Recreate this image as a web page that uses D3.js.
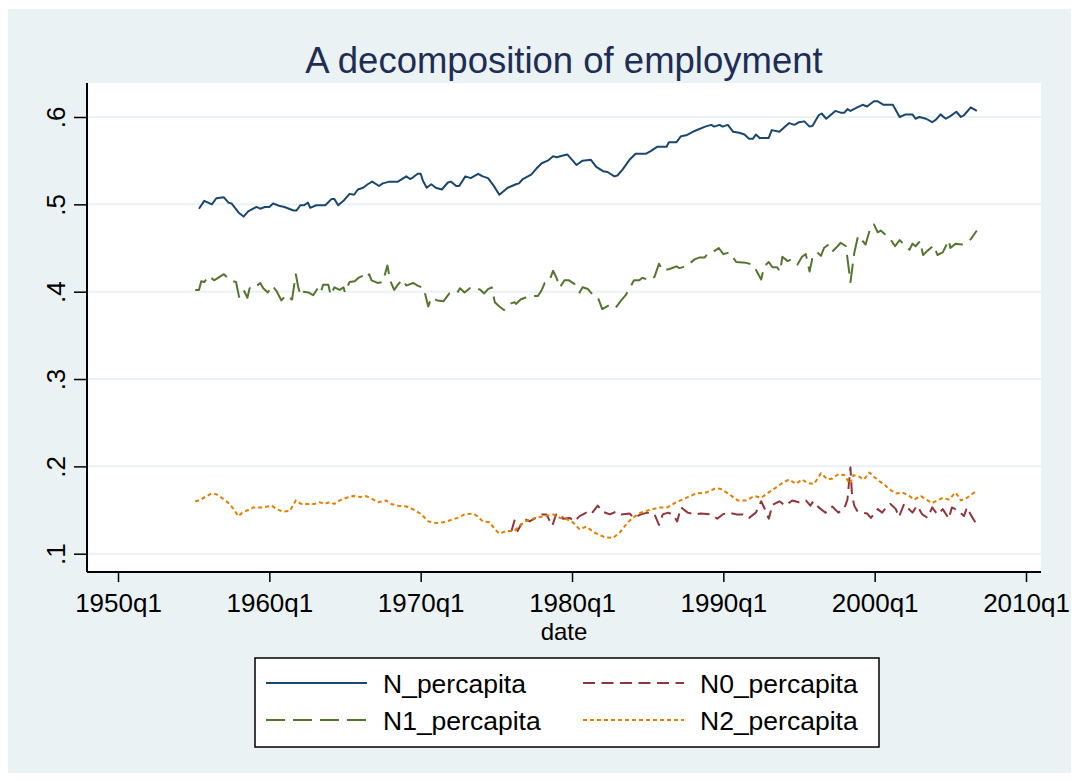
<!DOCTYPE html>
<html>
<head>
<meta charset="utf-8">
<script src="https://cdn.jsdelivr.net/npm/d3@7"></script>
<style>
  body { margin: 0; background: #fff; }
  text { font-family: "Liberation Sans", Arial, Helvetica, sans-serif; }
</style>
</head>
<body>
<div class="canvas"></div>
<script>
// [year, value]
const nPercapita = [[1955.35,.495],[1955.7,.504],[1956.2,.500],[1956.5,.507],[1957.0,.508],[1957.3,.502],[1957.5,.501],[1958.0,.490],[1958.3,.486],[1958.6,.492],[1959.15,.497],[1959.4,.495],[1959.7,.497],[1960.0,.497],[1960.25,.501],[1960.7,.498],[1961.0,.497],[1961.6,.493],[1961.8,.493],[1962.05,.499],[1962.3,.499],[1962.55,.502],[1962.7,.496],[1963.1,.499],[1963.7,.499],[1964.1,.506],[1964.3,.506],[1964.55,.499],[1964.9,.504],[1965.3,.512],[1965.6,.511],[1965.85,.517],[1966.2,.519],[1966.5,.523],[1966.8,.526],[1967.25,.521],[1967.5,.524],[1967.95,.526],[1968.5,.526],[1969.05,.532],[1969.3,.529],[1969.5,.531],[1969.8,.535],[1970.0,.535],[1970.15,.527],[1970.4,.519],[1970.7,.523],[1971.0,.519],[1971.4,.517],[1971.8,.525],[1972.0,.526],[1972.35,.521],[1972.55,.521],[1972.95,.532],[1973.3,.530],[1973.8,.535],[1974.1,.532],[1974.45,.530],[1974.8,.522],[1975.2,.511],[1975.75,.519],[1976.3,.523],[1976.5,.524],[1976.75,.529],[1977.3,.534],[1977.65,.541],[1978.0,.547],[1978.4,.550],[1978.75,.555],[1979.0,.554],[1979.4,.556],[1979.7,.557],[1980.05,.550],[1980.3,.545],[1980.7,.550],[1981.25,.551],[1981.6,.543],[1982.05,.538],[1982.35,.537],[1982.8,.532],[1983.0,.533],[1983.35,.540],[1983.8,.551],[1984.2,.558],[1984.9,.558],[1985.2,.561],[1985.65,.566],[1986.25,.566],[1986.4,.571],[1986.9,.571],[1987.2,.578],[1987.55,.579],[1988.1,.584],[1988.8,.589],[1989.2,.591],[1989.4,.589],[1989.75,.591],[1989.95,.589],[1990.3,.591],[1990.65,.583],[1991.05,.582],[1991.4,.580],[1991.7,.575],[1991.95,.575],[1992.15,.580],[1992.4,.576],[1993.0,.576],[1993.2,.585],[1993.7,.583],[1994.35,.593],[1994.7,.591],[1995.0,.594],[1995.35,.595],[1995.7,.589],[1995.9,.590],[1996.3,.602],[1996.5,.604],[1996.8,.598],[1997.4,.607],[1997.75,.605],[1998.0,.605],[1998.2,.609],[1998.4,.607],[1998.85,.611],[1999.2,.614],[1999.5,.612],[1999.95,.618],[2000.2,.618],[2000.6,.614],[2001.2,.614],[2001.65,.600],[2002.05,.603],[2002.5,.603],[2002.7,.598],[2002.95,.600],[2003.4,.598],[2003.8,.594],[2004.05,.597],[2004.35,.603],[2004.7,.598],[2005.0,.601],[2005.4,.606],[2005.7,.600],[2005.9,.602],[2006.35,.611],[2006.75,.607]];

const n0Percapita = [[1976.0,.126],[1976.2,.138],[1976.4,.126],[1976.85,.140],[1977.2,.137],[1977.6,.141],[1978.0,.145],[1978.3,.145],[1978.7,.132],[1978.95,.145],[1979.3,.145],[1979.4,.140],[1979.85,.141],[1980.15,.137],[1980.5,.143],[1980.95,.147],[1981.25,.145],[1981.7,.155],[1982.05,.148],[1982.5,.145],[1982.9,.148],[1983.25,.145],[1983.8,.146],[1984.1,.141],[1984.55,.145],[1985.0,.147],[1985.45,.145],[1985.75,.133],[1986.0,.145],[1986.35,.147],[1986.65,.145],[1986.95,.137],[1987.2,.153],[1987.65,.147],[1988.1,.145],[1988.5,.146],[1989.2,.145],[1989.6,.140],[1989.95,.145],[1990.4,.147],[1990.85,.145],[1991.3,.145],[1991.7,.141],[1992.15,.147],[1992.5,.160],[1992.8,.149],[1993.0,.140],[1993.25,.156],[1993.7,.160],[1994.1,.155],[1994.55,.161],[1995.0,.159],[1995.45,.161],[1995.75,.155],[1995.95,.160],[1996.3,.153],[1996.75,.147],[1997.2,.154],[1997.6,.147],[1998.0,.152],[1998.2,.162],[1998.4,.199],[1998.5,.168],[1998.65,.155],[1998.85,.149],[1999.2,.147],[1999.5,.146],[1999.75,.141],[2000.2,.151],[2000.5,.147],[2000.85,.155],[2001.05,.157],[2001.4,.151],[2001.6,.142],[2001.95,.157],[2002.15,.153],[2002.5,.147],[2002.8,.155],[2003.15,.145],[2003.5,.141],[2003.8,.153],[2004.15,.145],[2004.5,.151],[2004.9,.140],[2005.1,.153],[2005.55,.149],[2005.9,.143],[2006.1,.153],[2006.4,.143],[2006.65,.136]];

const n1Percapita = [[1955.1,.402],[1955.35,.402],[1955.5,.412],[1955.7,.411],[1956.0,.418],[1956.35,.413],[1957.0,.420],[1957.4,.413],[1957.8,.411],[1958.0,.394],[1958.3,.402],[1958.55,.393],[1958.7,.404],[1958.9,.403],[1959.4,.410],[1959.6,.404],[1959.9,.399],[1960.2,.407],[1960.5,.400],[1960.8,.390],[1961.1,.396],[1961.5,.391],[1961.75,.420],[1961.9,.406],[1962.05,.396],[1962.2,.400],[1962.6,.399],[1962.9,.396],[1963.2,.404],[1963.4,.399],[1963.55,.408],[1963.9,.408],[1964.05,.396],[1964.3,.405],[1964.65,.402],[1964.9,.405],[1965.0,.399],[1965.3,.411],[1965.65,.412],[1965.9,.416],[1966.3,.419],[1966.4,.416],[1966.6,.420],[1966.75,.413],[1967.15,.410],[1967.5,.411],[1967.8,.430],[1967.9,.421],[1968.0,.412],[1968.25,.402],[1968.5,.408],[1968.8,.414],[1969.05,.407],[1969.5,.410],[1969.8,.407],[1970.2,.404],[1970.5,.383],[1970.7,.393],[1971.1,.390],[1971.5,.389],[1971.9,.398],[1972.4,.398],[1972.6,.404],[1972.9,.399],[1973.25,.404],[1973.6,.405],[1973.95,.402],[1974.2,.398],[1974.45,.403],[1974.7,.405],[1974.9,.388],[1975.2,.383],[1975.5,.379],[1975.9,.386],[1976.2,.388],[1976.3,.386],[1976.6,.391],[1976.9,.393],[1977.3,.395],[1977.75,.395],[1978.0,.402],[1978.2,.410],[1978.5,.412],[1978.75,.424],[1978.95,.417],[1979.2,.405],[1979.5,.413],[1979.8,.413],[1980.15,.409],[1980.5,.399],[1980.7,.405],[1981.05,.403],[1981.35,.397],[1981.7,.394],[1982.0,.380],[1982.5,.385],[1982.9,.382],[1983.25,.390],[1983.55,.396],[1983.8,.404],[1984.1,.413],[1984.45,.413],[1984.65,.416],[1985.1,.413],[1985.45,.417],[1985.75,.432],[1986.0,.424],[1986.45,.426],[1986.9,.429],[1987.1,.427],[1987.55,.429],[1988.1,.437],[1988.4,.439],[1988.75,.439],[1988.95,.443],[1989.2,.444],[1989.7,.450],[1990.0,.443],[1990.4,.445],[1990.85,.434],[1991.5,.433],[1991.95,.431],[1992.15,.425],[1992.5,.414],[1992.7,.429],[1993.0,.434],[1993.25,.428],[1993.55,.428],[1993.75,.423],[1993.9,.440],[1994.25,.435],[1994.5,.437],[1994.9,.431],[1995.2,.440],[1995.45,.443],[1995.7,.423],[1995.9,.440],[1996.2,.445],[1996.45,.441],[1996.65,.450],[1996.95,.454],[1997.2,.446],[1997.55,.452],[1997.75,.456],[1998.1,.452],[1998.4,.411],[1998.65,.444],[1998.9,.464],[1999.4,.454],[1999.75,.475],[1999.95,.477],[2000.2,.468],[2000.4,.470],[2000.6,.467],[2001.05,.460],[2001.35,.452],[2001.65,.459],[2001.95,.454],[2002.3,.448],[2002.5,.455],[2002.7,.452],[2003.0,.458],[2003.2,.442],[2003.5,.447],[2003.9,.453],[2004.15,.442],[2004.5,.445],[2004.9,.459],[2005.0,.450],[2005.35,.455],[2005.75,.454],[2006.0,.456],[2006.35,.460],[2006.75,.470]];

const n2Percapita = [[1955.1,.160],[1955.4,.161],[1955.75,.165],[1956.2,.169],[1956.5,.168],[1956.85,.164],[1957.3,.158],[1957.6,.152],[1957.95,.143],[1958.2,.147],[1958.6,.150],[1958.95,.153],[1959.6,.153],[1960.15,.155],[1960.5,.151],[1960.9,.148],[1961.35,.149],[1961.75,.161],[1962.1,.157],[1962.45,.157],[1963.0,.157],[1963.3,.159],[1963.65,.157],[1964.0,.159],[1964.3,.157],[1964.65,.161],[1965.1,.164],[1965.55,.166],[1966.0,.165],[1966.4,.166],[1966.75,.163],[1967.2,.159],[1967.7,.161],[1968.05,.157],[1968.5,.155],[1969.05,.154],[1969.6,.150],[1970.05,.145],[1970.5,.137],[1971.05,.135],[1971.5,.136],[1971.9,.138],[1972.45,.141],[1972.9,.145],[1973.45,.146],[1973.75,.143],[1974.1,.137],[1974.55,.136],[1974.9,.128],[1975.2,.123],[1975.65,.126],[1976.2,.126],[1976.6,.133],[1977.05,.138],[1977.6,.141],[1978.2,.143],[1978.75,.145],[1979.2,.141],[1979.6,.140],[1980.05,.136],[1980.5,.128],[1980.95,.131],[1981.5,.124],[1982.15,.119],[1982.7,.118],[1983.15,.124],[1983.6,.134],[1984.0,.141],[1984.55,.147],[1985.1,.150],[1985.8,.153],[1986.3,.153],[1986.9,.159],[1987.55,.164],[1988.2,.169],[1988.85,.170],[1989.5,.175],[1989.85,.174],[1990.4,.168],[1990.95,.161],[1991.5,.161],[1992.05,.166],[1992.5,.164],[1992.9,.169],[1993.5,.176],[1993.9,.181],[1994.35,.185],[1994.8,.180],[1995.2,.185],[1995.55,.181],[1996.0,.180],[1996.45,.192],[1996.9,.185],[1997.2,.186],[1997.6,.191],[1998.0,.190],[1998.35,.180],[1998.6,.190],[1999.0,.188],[1999.3,.185],[1999.65,.193],[1999.95,.188],[2000.3,.183],[2000.6,.180],[2000.95,.174],[2001.4,.169],[2001.85,.170],[2002.3,.166],[2002.6,.162],[2003.05,.166],[2003.5,.161],[2003.8,.158],[2004.15,.161],[2004.5,.164],[2004.9,.162],[2005.35,.170],[2005.7,.161],[2006.1,.164],[2006.65,.171]];

const xTicks = [1950, 1960, 1970, 1980, 1990, 2000, 2010];
const yTicks = [0.1, 0.2, 0.3, 0.4, 0.5, 0.6];
const seriesNames = ["N_percapita", "N0_percapita", "N1_percapita", "N2_percapita"];

const dims = {width: 1077, height: 780};
const plot = {left: 87, right: 1041, top: 83, bottom: 572};

const svg = d3.select(".canvas")
    .append("svg")
    .attr("width", dims.width)
    .attr("height", dims.height);

// outer Stata background
svg.append("rect")
    .attr("x", 8).attr("y", 9)
    .attr("width", 1063).attr("height", 764)
    .attr("fill", "#eaf2f3");

svg.append("rect")
    .attr("x", plot.left).attr("y", plot.top)
    .attr("width", plot.right - plot.left).attr("height", plot.bottom - plot.top)
    .attr("fill", "#fff");

const x = d3.scaleLinear().domain([1950, 2010]).range([118, 1026]);
const y = d3.scaleLinear().domain([0.1, 0.6]).range([553.7, 117]);

// gridlines
svg.append("g")
    .selectAll("line")
    .data(yTicks)
    .enter().append("line")
    .attr("x1", plot.left).attr("x2", plot.right)
    .attr("y1", d => y(d)).attr("y2", d => y(d))
    .attr("stroke", "#eaf2f3")
    .attr("stroke-width", 2);

const series = [
    {name: seriesNames[0], data: nPercapita, color: "#1a476f", dash: null},
    {name: seriesNames[1], data: n0Percapita, color: "#90353b", dash: "12,6.5"},
    {name: seriesNames[2], data: n1Percapita, color: "#55752f", dash: "19,8"},
    {name: seriesNames[3], data: n2Percapita, color: "#e37e00", dash: "4,3"}
];

const line = d3.line()
    .x(d => x(d[0]))
    .y(d => y(d[1]));

svg.append("g")
    .selectAll("path")
    .data(series)
    .enter().append("path")
    .attr("d", d => line(d.data))
    .attr("fill", "none")
    .attr("stroke", d => d.color)
    .attr("stroke-width", 2)
    .attr("stroke-dasharray", d => d.dash)
    .attr("stroke-linejoin", "round");

// axes
const xAxis = d3.axisBottom(x)
    .tickValues(xTicks)
    .tickSize(10)
    .tickSizeOuter(0)
    .tickFormat(d => d + "q1");
const xg = svg.append("g")
    .attr("transform", `translate(0, ${plot.bottom})`)
    .call(xAxis);
xg.select(".domain").attr("d", `M${plot.left},0H${plot.right}`).attr("stroke-width", 2);
xg.selectAll("line").attr("stroke-width", 1.5);
xg.selectAll("text")
    .attr("font-size", 26)
    .attr("font-family", "Liberation Sans, Arial, sans-serif")
    .attr("fill", "#000")
    .attr("y", 40)
    .attr("dy", 0);

const yAxis = d3.axisLeft(y)
    .tickValues(yTicks)
    .tickSize(13)
    .tickSizeOuter(0)
    .tickFormat(d => d3.format(".1f")(d).replace(/^0/, ""));
const yg = svg.append("g")
    .attr("transform", `translate(${plot.left}, 0)`)
    .call(yAxis);
yg.select(".domain").attr("d", `M0,${plot.top}V${plot.bottom}`).attr("stroke-width", 2);
yg.selectAll("line").attr("stroke-width", 1.5);
yg.selectAll("text")
    .attr("font-size", 26)
    .attr("font-family", "Liberation Sans, Arial, sans-serif")
    .attr("fill", "#000")
    .attr("x", 0).attr("dy", 0)
    .attr("text-anchor", "middle")
    .attr("transform", "translate(-22,0) rotate(-90)");

// titles
svg.append("text")
    .attr("x", (plot.left + plot.right) / 2)
    .attr("y", 73)
    .attr("text-anchor", "middle")
    .attr("font-size", 36.5)
    .attr("fill", "#1e2d55")
    .text("A decomposition of employment");

svg.append("text")
    .attr("x", (plot.left + plot.right) / 2)
    .attr("y", 640)
    .attr("text-anchor", "middle")
    .attr("font-size", 24)
    .attr("fill", "#000")
    .text("date");

// legend
const legend = svg.append("g");
legend.append("rect")
    .attr("x", 255).attr("y", 658)
    .attr("width", 624).attr("height", 89)
    .attr("fill", "#fff")
    .attr("stroke", "#000")
    .attr("stroke-width", 1.5);

const legendPos = [
    {lx: 266, ty: 683}, {lx: 583, ty: 683},
    {lx: 266, ty: 720}, {lx: 583, ty: 720}
];
const items = legend.selectAll("g.item")
    .data(series)
    .enter().append("g")
    .attr("class", "item")
    .attr("transform", (d, i) => `translate(${legendPos[i].lx}, ${legendPos[i].ty})`);
items.append("line")
    .attr("x1", 0).attr("x2", 101)
    .attr("stroke", d => d.color)
    .attr("stroke-width", 2)
    .attr("stroke-dasharray", d => d.dash);
items.append("text")
    .attr("x", 117)
    .attr("dy", "0.36em")
    .attr("font-size", 26.5)
    .attr("fill", "#000")
    .text(d => d.name);
</script>
</body>
</html>
